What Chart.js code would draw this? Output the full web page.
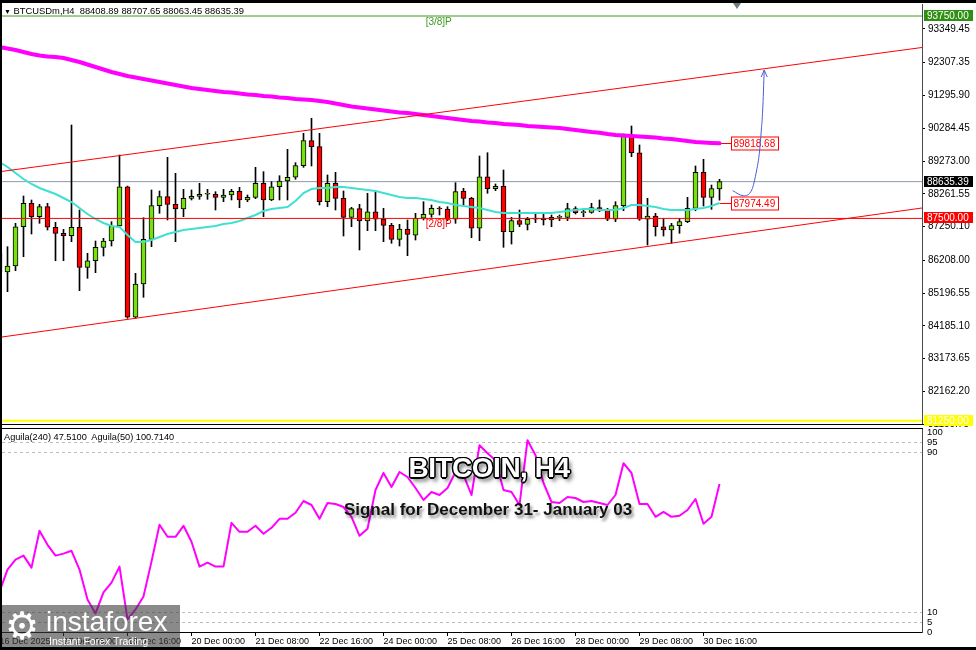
<!DOCTYPE html>
<html>
<head>
<meta charset="utf-8">
<title>BTCUSDm H4</title>
<script src="https://cdn.jsdelivr.net/npm/chart.js@4.4.1/dist/chart.umd.min.js"></script>
<style>
html,body{margin:0;padding:0;background:#fff;}
#wrap{position:relative;width:976px;height:650px;overflow:hidden;background:#fff;font-family:"Liberation Sans",Arial,sans-serif;}
canvas{position:absolute;left:0;}
#c1{top:0;}
#c2{top:428px;}
.blk{position:absolute;background:#000;}
#hdr{position:absolute;left:4px;top:6px;font-size:9.4px;line-height:10px;white-space:pre;color:#000;}
#hdr span{font-size:7px;}
#ind{position:absolute;left:4px;top:432px;font-size:9.2px;line-height:10px;white-space:pre;color:#000;}
#shift{position:absolute;left:733px;top:3px;width:0;height:0;border-left:4px solid transparent;border-right:4px solid transparent;border-top:6px solid #6c7a88;}
#title{position:absolute;left:339px;width:300px;top:454px;text-align:center;font-weight:bold;font-size:28px;line-height:28px;letter-spacing:-0.5px;color:#fff;
 text-shadow:-1.5px 0 #000,1.5px 0 #000,0 -1.5px #000,0 1.5px #000,-1px -1px #000,1px 1px #000,-1px 1px #000,1px -1px #000,3px 4px 4px rgba(0,0,0,.6);}
#sub{position:absolute;left:288px;width:400px;top:501px;text-align:center;font-weight:bold;font-size:17px;line-height:17px;color:#111;text-shadow:2px 3px 3px rgba(0,0,0,.45);}
#logo{position:absolute;left:0;top:605px;width:180px;height:45px;background:rgba(60,60,60,.6);color:#fff;}
#gear{position:absolute;left:5px;top:-1px;font-family:"DejaVu Sans";font-size:38px;line-height:44px;}
#brand{position:absolute;left:46px;top:3px;font-size:28px;line-height:28px;}
#tag{position:absolute;left:49px;top:31px;font-size:10.5px;line-height:10.5px;}
</style>
</head>
<body>
<div id="wrap">
<canvas id="c1" width="976" height="428"></canvas>
<canvas id="c2" width="976" height="222"></canvas>
<div id="hdr"><span>&#9660;</span> BTCUSDm,H4  88408.89 88707.65 88063.45 88635.39</div>
<div id="ind">Aguila(240) 47.5100  Aguila(50) 100.7140</div>
<div id="shift"></div>
<div id="title">BITCOIN, H4</div>
<div id="sub">Signal for December 31- January 03</div>
<div id="logo"><div id="gear">&#9881;</div><div id="brand">instaforex</div><div id="tag">Instant Forex Trading</div></div>
<div class="blk" style="left:0;top:0;width:976px;height:3px"></div>
<div class="blk" style="left:0;top:0;width:2px;height:650px"></div>
<div class="blk" style="left:0;top:647px;width:976px;height:3px"></div>
</div>
<script>
// ---------------- DATA ----------------
const barCount = 91; // 16 Dec 00:00 ... 31 Dec 00:00, H4 bars
const xTickBars = [0,8,16,24,32,40,48,56,64,72,80,88];
const xTickLabels = ['16 Dec 2025','17 Dec 08:00','18 Dec 16:00','20 Dec 00:00','21 Dec 08:00','22 Dec 16:00','24 Dec 00:00','25 Dec 08:00','26 Dec 16:00','28 Dec 00:00','29 Dec 08:00','30 Dec 16:00'];
const priceTicks = [93349.45,92307.35,91295.90,90284.45,89273.00,88261.55,87250.10,86208.00,85196.55,84185.10,83173.65,82162.20,81150.75];

const opens = [86432,85845,86031,87244,87967,87553,87862,87226,87040,86966,
87226,85990,86194,86608,86803,87266,88479,84447,85475,86855,
87893,88171,87936,87791,88121,88183,88245,88245,88152,88223,
88337,88069,88152,88584,88069,88479,88655,88770,89128,89900,
89715,88016,88584,88121,87534,87800,87420,87707,87473,87287,
86855,87173,86979,87504,87627,87812,87791,87473,88347,88121,
87195,88788,88418,88492,87090,87430,87318,87513,87513,87451,
87534,87534,87800,87677,87689,87831,87760,87473,87893,90045,
89529,87473,87575,87244,87142,87275,87399,87812,88924,88152,88408.89];
const highs = [86586,86627,87349,88192,88069,87936,87967,87380,87164,90385,
87760,86423,86803,86886,87399,89458,88500,85805,87522,88378,
88347,89387,88893,88399,88378,88584,88399,88325,88399,88399,
88461,88223,89078,88943,88634,88819,89634,89221,90128,90592,
90128,88841,88924,88347,87843,87936,88276,88347,87812,87349,
87318,87451,87658,88016,87914,87862,87862,88603,88430,88152,
89427,89529,88563,88995,87534,87760,87534,87658,87627,87605,
87605,87967,87862,87791,87967,88069,87812,88016,90107,90354,
89767,88121,87658,87504,87349,87504,88152,89119,89325,88532,88707.65];
const lows = [85598,85237,85885,86318,87019,87349,87142,86194,86194,86781,
85268,85651,85824,86339,86648,87244,84416,84416,85064,86627,
87658,87451,86781,87553,88069,88090,88090,87760,88016,88069,
87831,88016,88109,87553,88047,88069,88069,88708,89078,89119,
87914,87862,87760,86957,87244,86525,87121,87121,86781,86732,
86648,86349,86833,87451,87534,87605,87430,87349,87914,86904,
86812,88276,88356,86608,86710,87244,87142,87368,87297,87244,
87430,87430,87636,87553,87658,87707,87430,87399,87738,89406,
87440,86679,86957,86957,86732,87040,87368,87738,87883,87781,88063.45];
const closes = [85845,86031,87244,87967,87553,87862,87226,87040,86966,87226,
85990,86194,86608,86803,87266,88479,84447,85475,86855,87893,
88171,87936,87791,88121,88183,88245,88250,88152,88223,88337,
88069,88152,88584,88069,88479,88655,88770,89128,89900,89715,
88016,88584,88121,87534,87800,87420,87707,87473,87287,86855,
87173,87009,87504,87627,87812,87790,87473,88325,88121,87195,
88788,88418,88492,87090,87430,87318,87473,87473,87451,87534,
87540,87800,87677,87690,87831,87760,87473,87893,90045,89529,
87473,87575,87244,87142,87275,87399,87812,88924,88152,88418,88635.39];

const ma240 = [92793,92747,92701,92639,92577,92531,92500,92485,92454,92392,
92330,92253,92176,92099,92021,91960,91898,91851,91805,91759,
91713,91666,91620,91574,91527,91496,91465,91435,91404,91388,
91357,91327,91311,91280,91265,91234,91218,91188,91172,91157,
91126,91095,91049,91002,90956,90925,90894,90863,90832,90802,
90771,90755,90724,90693,90663,90632,90601,90570,90539,90508,
90493,90462,90446,90416,90400,90385,90354,90338,90323,90307,
90292,90261,90230,90199,90169,90147,90107,90076,90060,90045,
90030,90014,89999,89968,89952,89921,89891,89860,89844,89829,89818.68];
const ema50 = [89242,89088,88902,88717,88563,88439,88347,88254,88130,88007,
87822,87636,87482,87358,87266,87235,86988,86772,86772,86833,
86926,87019,87081,87142,87173,87204,87235,87266,87328,87358,
87420,87513,87606,87729,87791,87822,87853,88038,88285,88408,
88439,88439,88470,88470,88439,88408,88378,88347,88285,88223,
88161,88130,88130,88099,88069,88007,87976,87914,87883,87853,
87822,87760,87698,87667,87667,87667,87667,87667,87667,87667,
87698,87729,87760,87791,87791,87760,87760,87760,87822,87914,
87914,87883,87853,87791,87760,87760,87760,87791,87822,87883,87974.49];
const aguila = [20.2,31.2,36.2,38.2,32.2,50.6,43.6,38.2,39.2,40.6,
31.2,16.3,9.3,19.8,24.7,32.7,6.3,11.3,17.8,35.2,
53.6,47.6,47.6,53.1,45.1,32.7,34.7,32.7,32.7,54.6,
50.1,50.1,53.1,49.1,52.1,56.6,56.6,59.6,65.5,63.5,
56.6,64.5,64.0,62.5,57.6,48.1,51.6,71.0,79.5,72.5,
80.0,77.5,72.0,66.0,70.0,68.5,72.0,80.0,78.5,68.5,
93.4,89.4,85.9,71.0,70.0,63.5,95.9,88.4,74.5,65.0,
64.5,67.5,67.0,65.0,65.5,64.5,63.5,68.5,84.4,79.5,
64.0,64.0,57.6,60.1,57.6,58.1,61.0,66.5,54.1,57.6,74.0];
const aguilaTicks = [100,95,90,10,5,0];
const aguilaDashed = [95,90,10,5];

const levelValues = [93750, 88635.39, 87500, 81250];
const levelLineColors = ['#3f9a22','#8b9aab','#ff0000','#ffff00'];
const levelLineWidths = [1,1,1,2];
const levelBoxColors = ['#2f8f12','#000000','#ff0000','#ffff00'];

const channelBars = [0.3125, 115.3125];
const channelUpper = [88952, 92778];
const channelLower = [83838, 87822];

const forecastBars = [91.65,92.98,94.03,94.65,94.98,95.23,95.40,95.59];
const forecastPrices = [88356,88201,88378,88995,89511,90230,90848,92083];

const murrayTexts = ['[3/8]P','[2/8]P'];
const murrayPrices = [93750, 87500];
const murrayColors = ['#3f9a22','#ff0000'];
const murrayBar = 54.9;

// ---------------- SETUP ----------------
const X_MIN = 0.3125, X_MAX = 115.3125;
const Y_MIN = 81151.6, Y_MAX = 94121.2;
const GREEN = '#78e010', RED = '#ff0000';
Chart.defaults.font.family = '"Liberation Sans", Arial, sans-serif';
Chart.defaults.font.size = 10;
Chart.defaults.color = '#000';

const idx = Array.from({length: barCount}, (_, k) => k);
const pts = (arr) => idx.map(k => ({x: k, y: arr[k]}));
const hline = (v) => [{x: X_MIN, y: v}, {x: X_MAX, y: v}];
const lineDs = (data, color, width, extra) => Object.assign({type: 'line', data, borderColor: color, borderWidth: width, pointRadius: 0, tension: 0, fill: false, order: 0}, extra || {});
const noPad = (s) => { s.paddingTop = 0; s.paddingBottom = 0; s.paddingLeft = 0; s.paddingRight = 0; };

const mainDeco = {
  id: 'mainDeco',
  beforeDatasetsDraw(chart) {
    const {ctx, scales: {x, y}} = chart;
    ctx.save();
    ctx.font = '10px "Liberation Sans"';
    const px = x.getPixelForValue(barCount - 1);
    [ma240[barCount - 1], ema50[barCount - 1]].forEach(v => {
      const py = Math.round(y.getPixelForValue(v)) + 0.5;
      ctx.strokeStyle = '#ff0000'; ctx.lineWidth = 1;
      ctx.beginPath(); ctx.moveTo(px, py); ctx.lineTo(px + 12, py); ctx.stroke();
      ctx.fillStyle = '#fff'; ctx.fillRect(px + 12, py - 6.5, 47, 13);
      ctx.strokeRect(px + 12, py - 6.5, 47, 13);
      ctx.fillStyle = '#ff0000'; ctx.textAlign = 'left'; ctx.textBaseline = 'middle';
      ctx.fillText(v.toFixed(2), px + 14, py + 0.5);
    });
    ctx.restore();
  },
  afterDatasetsDraw(chart) {
    const {ctx, scales: {x, y}} = chart;
    ctx.save();
    ctx.font = '10px "Liberation Sans"';
    ctx.textAlign = 'center'; ctx.textBaseline = 'top';
    murrayTexts.forEach((t, i) => {
      ctx.fillStyle = murrayColors[i];
      ctx.fillText(t, x.getPixelForValue(murrayBar), y.getPixelForValue(murrayPrices[i]) + 1);
    });
    const n = forecastBars.length;
    const tx = x.getPixelForValue(forecastBars[n - 1]), ty = y.getPixelForValue(forecastPrices[n - 1]);
    ctx.strokeStyle = '#4b5cd6'; ctx.lineWidth = 1;
    ctx.beginPath(); ctx.moveTo(tx - 3, ty + 7); ctx.lineTo(tx, ty); ctx.lineTo(tx + 3, ty + 7); ctx.stroke();
    ctx.restore();
  },
  afterDraw(chart) {
    const {ctx, chartArea: a, scales: {y}} = chart;
    ctx.save();
    ctx.font = '10px "Liberation Sans"';
    ctx.textAlign = 'left'; ctx.textBaseline = 'middle';
    levelValues.forEach((v, i) => {
      const py = Math.round(y.getPixelForValue(v));
      ctx.fillStyle = levelBoxColors[i];
      ctx.fillRect(a.right + 2, py - 6, 49, 11);
      ctx.fillStyle = '#fff';
      ctx.fillText(v.toFixed(2), a.right + 5, py);
    });
    ctx.fillStyle = '#000';
    ctx.fillRect(0, a.bottom, a.right + 1, 1);
    ctx.restore();
  }
};

const lowerDeco = {
  id: 'lowerDeco',
  beforeDatasetsDraw(chart) {
    const {ctx, chartArea: a, scales: {y}} = chart;
    ctx.save();
    ctx.strokeStyle = '#bdbdbd'; ctx.lineWidth = 1; ctx.setLineDash([3, 3]);
    aguilaDashed.forEach(v => {
      const py = Math.round(y.getPixelForValue(v)) + 0.5;
      ctx.beginPath(); ctx.moveTo(a.left, py); ctx.lineTo(a.right, py); ctx.stroke();
    });
    ctx.restore();
  },
  afterDraw(chart) {
    const {ctx, chartArea: a} = chart;
    ctx.save();
    ctx.fillStyle = '#000';
    ctx.fillRect(0, a.top, a.right + 1, 1);
    ctx.restore();
  }
};

new Chart(document.getElementById('c1'), {
  type: 'bar',
  data: {
    datasets: [
      {label: 'wicks', data: idx.map(k => ({x: k, y: [lows[k], highs[k]]})), backgroundColor: '#000', borderWidth: 0, barThickness: 1, grouped: false, order: 5},
      {label: 'bodies', data: idx.map(k => ({x: k, y: [opens[k], closes[k]]})),
        backgroundColor: idx.map(k => closes[k] >= opens[k] ? GREEN : RED),
        borderColor: '#000', borderWidth: 1, borderSkipped: false, barThickness: 5, minBarLength: 1, grouped: false, order: 4},
      lineDs(hline(levelValues[0]), levelLineColors[0], levelLineWidths[0], {order: 6}),
      lineDs(hline(levelValues[1]), levelLineColors[1], levelLineWidths[1], {order: 6}),
      lineDs(hline(levelValues[2]), levelLineColors[2], levelLineWidths[2], {order: 1}),
      lineDs(hline(levelValues[3]), levelLineColors[3], levelLineWidths[3], {order: 1}),
      lineDs(channelBars.map((b, i) => ({x: b, y: channelUpper[i]})), '#ff0000', 1, {order: 1}),
      lineDs(channelBars.map((b, i) => ({x: b, y: channelLower[i]})), '#ff0000', 1, {order: 1}),
      lineDs(pts(ma240), '#ff00ff', 4, {borderCapStyle: 'round', borderJoinStyle: 'round', order: 2}),
      lineDs(pts(ema50), '#40e0d0', 2, {order: 2}),
      lineDs(forecastBars.map((b, i) => ({x: b, y: forecastPrices[i]})), '#4b5cd6', 1, {cubicInterpolationMode: 'monotone', order: 0})
    ]
  },
  options: {
    responsive: false, animation: false, devicePixelRatio: 1,
    layout: {padding: {top: 4, bottom: 4, left: 2, right: 0}},
    plugins: {legend: {display: false}, tooltip: {enabled: false}},
    scales: {
      x: {type: 'linear', min: X_MIN, max: X_MAX, offset: false, display: false},
      y: {
        type: 'linear', position: 'right', min: Y_MIN, max: Y_MAX,
        afterFit: s => { s.width = 54; noPad(s); },
        afterBuildTicks: s => { s.ticks = priceTicks.map(v => ({value: v})); },
        ticks: {autoSkip: false, padding: 3, font: {size: 10}, callback: v => Number(v).toFixed(2)},
        grid: {drawOnChartArea: false, drawTicks: true, tickLength: 3, tickColor: '#000'},
        border: {display: true, color: '#4a4a4a', width: 1}
      }
    }
  },
  plugins: [mainDeco]
});

new Chart(document.getElementById('c2'), {
  type: 'line',
  data: {
    datasets: [
      lineDs(pts(aguila), '#ff00ff', 2, {borderJoinStyle: 'round'})
    ]
  },
  options: {
    responsive: false, animation: false, devicePixelRatio: 1,
    layout: {padding: {top: 0, bottom: 0, left: 2, right: 0}},
    plugins: {legend: {display: false}, tooltip: {enabled: false}},
    scales: {
      x: {
        type: 'linear', min: X_MIN, max: X_MAX, offset: false,
        afterFit: s => { s.height = 18; noPad(s); },
        afterBuildTicks: s => { s.ticks = xTickBars.map(v => ({value: v})); },
        ticks: {autoSkip: false, maxRotation: 0, minRotation: 0, align: 'start', padding: 0, font: {size: 9}, callback: (v, i) => xTickLabels[i]},
        grid: {drawOnChartArea: false, drawTicks: true, tickLength: 4, tickColor: '#000'},
        border: {display: true, color: '#000', width: 1}
      },
      y: {
        type: 'linear', position: 'right', min: 0, max: 102,
        afterFit: s => { s.width = 54; noPad(s); },
        afterBuildTicks: s => { s.ticks = aguilaTicks.map(v => ({value: v})); },
        ticks: {autoSkip: false, padding: 5, font: {size: 9.5}, callback: v => String(v)},
        grid: {drawOnChartArea: false, drawTicks: false},
        border: {display: true, color: '#4a4a4a', width: 1}
      }
    }
  },
  plugins: [lowerDeco]
});
</script>
</body>
</html>
